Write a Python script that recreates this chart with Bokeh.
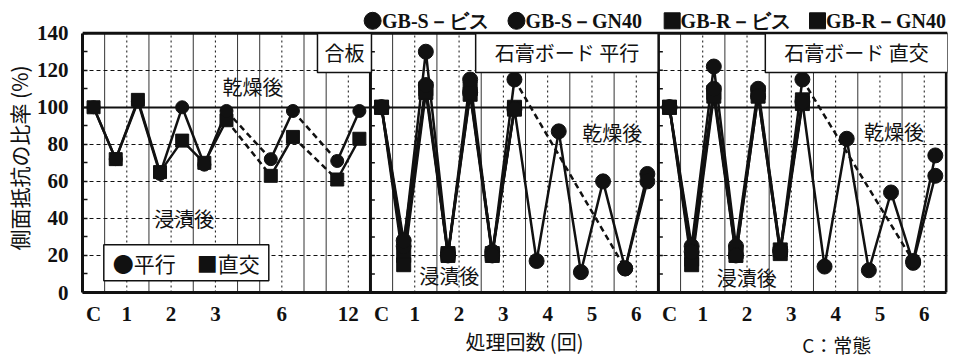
import numpy as np
from bokeh.plotting import figure
from bokeh.layouts import column
from bokeh.models import FixedTicker, Grid, Label, Range1d, Span
from bokeh.core.properties import value
from bokeh.embed import file_html
from bokeh.resources import INLINE

nan = float("nan")

# ---------------- data ----------------
panel_offsets = [0, 13, 26]          # slot offset of each panel on the shared x axis

# 合板 (plywood): measured after cycles 1, 2, 3, 6, 12 (immersion / dry pairs)
ply_slots = [0, 1, 2, 3, 4, 5, 6, 8, 9, 11, 12]
ply_parallel = [100, 72, 103, 64, 100, 69, 98, 72, 98, 71, 98]
ply_perp = [100, 72, 104, 65, 82, 70, 93, 63, 84, 61, 83]
ply_tick_slots = [0, 1.5, 3.5, 5.5, 8.5, 11.5]
ply_tick_labels = ["C", "1", "2", "3", "6", "12"]

# 石膏ボード (gypsum board): cycles 1..6
gb_slots = list(range(13))
gb_tick_slots = [0, 1.5, 3.5, 5.5, 7.5, 9.5, 11.5]
gb_tick_labels = ["C", "1", "2", "3", "4", "5", "6"]

par_s_screw = [100, 25, 130, 21, 108, 22, 99, 17, 87, 11, 60, 13, 64]
par_s_gn40 = [100, 28, 112, 20, 115, 20, 115, nan, nan, nan, nan, 13, 60]
par_r_screw = [100, 20, 110, 21, 110, 21, 100, nan, nan, nan, nan, nan, nan]
par_r_gn40 = [100, 15, 108, 20, 107, 20, 99, nan, nan, nan, nan, nan, nan]

perp_s_screw = [100, 25, 122, 25, 110, 23, 103, 14, 83, 12, 54, 16, 63]
perp_s_gn40 = [100, 22, 110, 20, 106, 22, 115, nan, nan, nan, nan, 17, 74]
perp_r_screw = [100, 18, 108, 22, 108, 23, 104, nan, nan, nan, nan, nan, nan]
perp_r_gn40 = [100, 15, 106, 20, 106, 21, 102, nan, nan, nan, nan, nan, nan]

legend_names = ["GB-S－ビス", "GB-S－GN40", "GB-R－ビス", "GB-R－GN40"]
legend_markers = ["circle", "circle", "square", "square"]

y_ticks = [0, 20, 40, 60, 80, 100, 120, 140]
y_minor = [10, 30, 50, 70, 90, 110, 130]
y_dash_grid = [20, 40, 60, 80, 120]
y_ref = [100]
Y_MAX = 140

# group boundaries (solid vertical grid lines) per panel, in slots
ply_bounds = [0.5, 2.5, 4.5, 6.5, 7.5, 9.5, 10.5]
gb_bounds = [0.5, 2.5, 4.5, 6.5, 8.5, 10.5]

ink = "#111111"
SERIF = "Liberation Serif"
CJK = "Noto Sans CJK JP"

# ---------------- geometry ----------------
W = 948
PAGE_X, PAGE_Y = 8, 0                # observed page origin of the layout
BOT_H = 30
ML, MR, MT, MB = 72, 1, 2, 33
BOX_TOP, BOX_BOTTOM = 33, 295        # page px of y=140 and y=0
YS = (BOX_BOTTOM - BOX_TOP) / Y_MAX  # px per unit
FH = BOX_BOTTOM - (PAGE_Y + MT)
MAIN_H = MT + FH + MB
FW = W - ML - MR
XS = 22.407                          # px per slot
X0 = -0.5
X1 = X0 + FW / XS
Y1 = FH / YS
PX0 = PAGE_X + ML


def dx(px):
    return (px - PX0) / XS + X0


def dy(py):
    return (BOX_BOTTOM - py) / YS


# ---------------- main figure ----------------
xr = Range1d(X0, X1)
p = figure(width=W, height=MAIN_H, x_range=xr, y_range=Range1d(0, Y1),
           output_backend="svg", toolbar_location=None,
           min_border_left=ML, min_border_right=MR, min_border_top=MT, min_border_bottom=MB)
p.background_fill_color = "white"
p.border_fill_color = "white"
p.outline_line_color = None
p.grid.grid_line_color = None

X_END = X0 + 39                      # right edge of the chart box
solid_x = [b + o for o, bs in zip(panel_offsets, [ply_bounds, gb_bounds, gb_bounds]) for b in bs]
dotted_x = [t + o for o, ts in zip(panel_offsets, [ply_tick_slots, gb_tick_slots, gb_tick_slots])
            for t in ts if t != 0]
p.segment(x0=solid_x, x1=solid_x, y0=[0] * len(solid_x), y1=[Y_MAX] * len(solid_x),
          line_color=ink, line_width=1, line_alpha=0.85)
p.segment(x0=dotted_x, x1=dotted_x, y0=[0] * len(dotted_x), y1=[Y_MAX] * len(dotted_x),
          line_color=ink, line_width=1, line_dash="2 3")
p.add_layout(Grid(dimension=1, ticker=FixedTicker(ticks=y_dash_grid),
                  grid_line_color=ink, grid_line_width=1, grid_line_dash="4 3"))
p.add_layout(Grid(dimension=1, ticker=FixedTicker(ticks=y_ref),
                  grid_line_color=ink, grid_line_width=2))

# chart box: top edge, right edge, panel separators
p.add_layout(Span(location=Y_MAX, dimension="width", line_color=ink, line_width=3))
sep_x = [o - 0.5 for o in panel_offsets[1:]] + [X_END]
p.segment(x0=sep_x, x1=sep_x, y0=[0] * len(sep_x), y1=[Y_MAX] * len(sep_x),
          line_color=ink, line_width=3)
all_y = y_ticks + y_minor
for o in panel_offsets[1:]:
    p.segment(x0=[o - 0.5] * len(all_y), x1=[o - 0.3] * len(all_y),
              y0=all_y, y1=all_y, line_color=ink, line_width=1.5)

p.yaxis.bounds = (0, Y_MAX)
p.yaxis.ticker = FixedTicker(ticks=y_ticks, minor_ticks=y_minor)
p.yaxis.major_tick_in = 5
p.yaxis.major_tick_out = 0
p.yaxis.minor_tick_in = 5
p.yaxis.minor_tick_out = 0
p.yaxis.major_tick_line_color = ink
p.yaxis.minor_tick_line_color = ink
p.yaxis.major_tick_line_width = 1.5
p.yaxis.minor_tick_line_width = 1.5
p.yaxis.axis_line_color = ink
p.yaxis.axis_line_width = 3
p.yaxis.major_label_text_font = SERIF
p.yaxis.major_label_text_font_style = "bold"
p.yaxis.major_label_text_font_size = "21px"
p.yaxis.major_label_text_color = ink
p.yaxis.major_label_standoff = 14
# the label is centred on the frame (which also holds the legend row); a trailing
# ideographic space moves the visible glyphs down to the centre of the chart box
p.yaxis.axis_label = "側面抵抗の比率 (%)\u3000"
p.yaxis.axis_label_text_font = CJK
p.yaxis.axis_label_text_font_style = "normal"
p.yaxis.axis_label_text_font_size = "21px"
p.yaxis.axis_label_text_color = ink
p.yaxis.axis_label_standoff = 0

xt, xl = [], {}
for o, ts, ls in zip(panel_offsets, [ply_tick_slots, gb_tick_slots, gb_tick_slots],
                     [ply_tick_labels, gb_tick_labels, gb_tick_labels]):
    for t, l in zip(ts, ls):
        xt.append(o + t)
        xl[o + t] = l
p.xaxis.ticker = FixedTicker(ticks=xt)
p.xaxis.major_label_overrides = xl
p.xaxis.bounds = (X0, X_END)
p.xaxis.major_tick_in = 0
p.xaxis.major_tick_out = 0
p.xaxis.minor_tick_in = 0
p.xaxis.minor_tick_out = 0
p.xaxis.axis_line_color = ink
p.xaxis.axis_line_width = 3
p.xaxis.major_label_text_font = SERIF
p.xaxis.major_label_text_font_style = "bold"
p.xaxis.major_label_text_font_size = "21px"
p.xaxis.major_label_text_color = ink
p.xaxis.major_label_standoff = 9


def split_runs(slots, vals, offset):
    sx, sy, dash = [], [], []
    prev = None
    for s, v in zip(slots, vals):
        if np.isnan(v):
            continue
        x = offset + s
        if prev is not None and x - prev[0] > 1:
            sx.append(nan)
            sy.append(nan)
            dash.append((prev[0], prev[1], x, v))
        sx.append(x)
        sy.append(v)
        prev = (x, v)
    return np.array(sx, dtype=float), np.array(sy, dtype=float), dash


series = [
    (panel_offsets[0], ply_slots, ply_parallel, "circle", 13),
    (panel_offsets[0], ply_slots, ply_perp, "square", 13),
    (panel_offsets[1], gb_slots, par_r_screw, "square", 14),
    (panel_offsets[1], gb_slots, par_r_gn40, "square", 14),
    (panel_offsets[1], gb_slots, par_s_screw, "circle", 15),
    (panel_offsets[1], gb_slots, par_s_gn40, "circle", 15),
    (panel_offsets[2], gb_slots, perp_r_screw, "square", 14),
    (panel_offsets[2], gb_slots, perp_r_gn40, "square", 14),
    (panel_offsets[2], gb_slots, perp_s_screw, "circle", 15),
    (panel_offsets[2], gb_slots, perp_s_gn40, "circle", 15),
]

for o, slots, vals, mk, sz in series:
    sx, sy, dash = split_runs(slots, vals, o)
    p.line(sx, sy, line_color=ink, line_width=2.5)
    if dash:
        d = np.array(dash, dtype=float)
        p.segment(x0=d[:, 0], y0=d[:, 1], x1=d[:, 2], y1=d[:, 3],
                  line_color=ink, line_width=2.5, line_dash="6 4")

for want in ("square", "circle"):
    for o, slots, vals, mk, sz in series:
        if mk != want:
            continue
        xs = np.array([o + s for s in slots], dtype=float)
        ys = np.array(vals, dtype=float)
        p.scatter(xs, ys, marker=mk, size=sz, fill_color=ink, line_color=ink)


def lab(text, px, py, size=20, pad=None, font=CJK, style="normal", align="center"):
    l = Label(x=dx(px), y=dy(py), text=text, text_font=font,
              text_font_size=f"{size}px", text_font_style=style, text_align=align,
              text_baseline="middle", text_color=ink)
    if pad is not None:
        l.border_line_color = ink
        l.border_line_width = 1.5
        l.background_fill_color = "white"
        l.padding = pad
    p.add_layout(l)


lab("合板", 345, 53, pad=(7, 5))
lab("石膏ボード 平行", 570, 53, pad=(19, 5))
lab("石膏ボード 直交", 863, 53, pad=(19, 5))
lab("乾燥後", 252, 87)
lab("浸漬後", 183, 220)
lab("乾燥後", 616, 133)
lab("浸漬後", 451, 278)
lab("乾燥後", 901, 132)
lab("浸漬後", 752, 280)
lab("●平行　■直交", 185, 265, size=21, pad=(9, 3))

# series legend above the chart box
leg_marker_px = [373.5, 519, 676.5, 823.5]
leg_text_px = [383, 528, 685, 832]
for mk, mx in zip(legend_markers, leg_marker_px):
    p.scatter([dx(mx)], [dy(20.5)], marker=mk, size=17 if mk == "circle" else 16,
              fill_color=ink, line_color=ink)
for name, tx in zip(legend_names, leg_text_px):
    lab(name, tx, 20.5, size=20, font=SERIF, style="bold", align="left")

# ---------------- strip below (frame aligns with the main frame) ----------------
bot_top = PAGE_Y + MAIN_H
bot = figure(width=W, height=BOT_H, x_range=xr,
             y_range=Range1d(bot_top + BOT_H, bot_top), output_backend="svg",
             toolbar_location=None, x_axis_type=None, y_axis_type=None, min_border=0)
bot.outline_line_color = None
bot.grid.grid_line_color = None
bot.background_fill_color = "white"
bot.border_fill_color = "white"
bot.text([dx(527)], [341], text=["処理回数 (回)"], text_font=value(CJK),
         text_font_size="20px", text_color=ink, text_align="center", text_baseline="middle")
bot.text([dx(843)], [344], text=["C：常態"], text_font=value(CJK),
         text_font_size="19px", text_color=ink, text_align="center", text_baseline="middle")

layout = column(p, bot)
open("out.html", "w").write(file_html(layout, INLINE))
